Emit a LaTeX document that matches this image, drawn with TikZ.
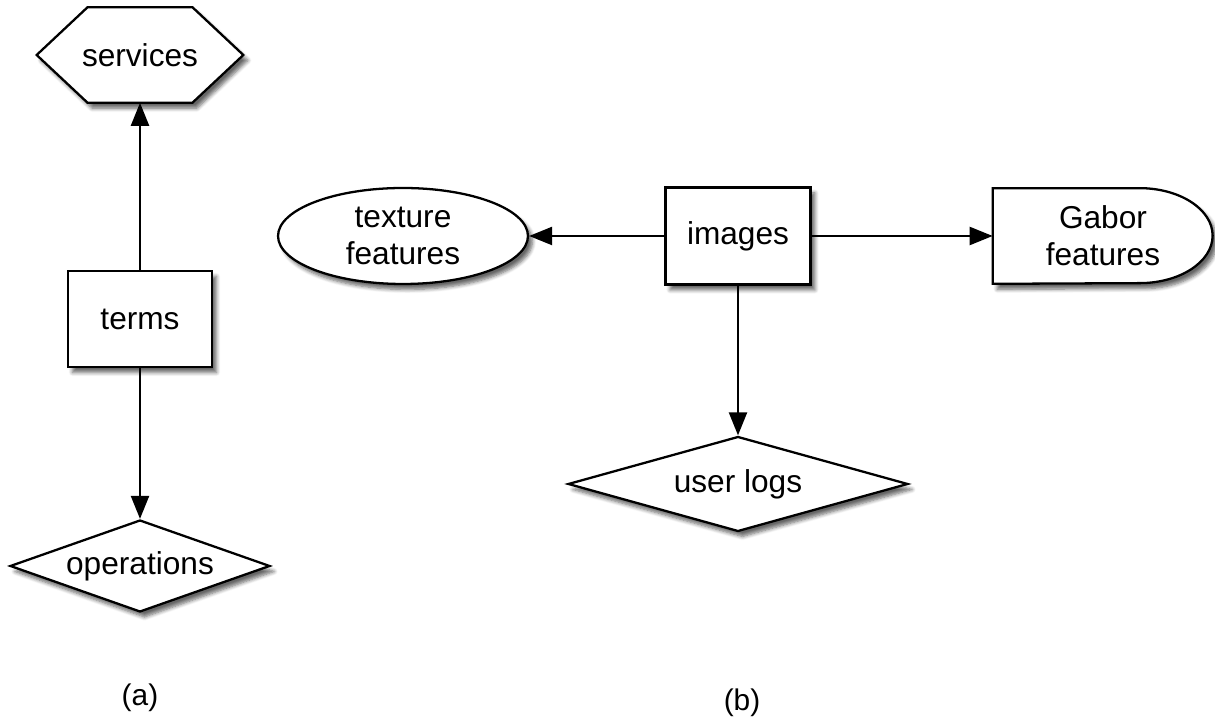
\documentclass[tikz,border=0pt]{standalone}
\usepackage{fontspec}
\setmainfont{Liberation Sans}
\usepackage{tikz}
\usetikzlibrary{shapes.geometric,shadows.blur,arrows.meta}

\begin{document}
\begin{tikzpicture}[x=0.02cm, y=0.02cm,
  shade/.style = {blur shadow={shadow xshift=0.09cm, shadow yshift=-0.11cm, shadow blur steps=6, shadow opacity=60}},
  box/.style = {draw, line width=1.3pt, fill=white, shade, inner sep=0pt, font=\fontsize{18}{21}\selectfont, align=center},
  ghost/.style = {inner sep=0pt, font=\fontsize{18}{21}\selectfont, align=center},
  outline/.style = {draw, line width=1.3pt, fill=white, shade},
  link/.style = {line width=1.3pt, opacity=1, fill opacity=1, -{Triangle[length=0.46cm, width=0.36cm, fill=black]}},
  tag/.style = {font=\fontsize{17}{20}\selectfont}]
\useasboundingbox (0,0) rectangle (1215,723);

%% (a)
\node[ghost, minimum width=4.12cm, minimum height=1.9cm] (services) at (140,668) {};
\draw[outline] (services.west) -- ([xshift=1.02cm]services.north west) -- ([xshift=-1.02cm]services.north east)
  -- (services.east) -- ([xshift=-1.02cm]services.south east) -- ([xshift=1.02cm]services.south west) -- cycle;
\node[ghost] at (services) {services};
\node[box, minimum width=2.88cm, minimum height=1.92cm] (terms) at (140,404) {terms};
\node[box, diamond, aspect=2.8, minimum width=5.2cm, minimum height=1.84cm] (operations) at (140,157) {operations};
\node[tag] (a) at (140,25) {(a)};

%% (b)
\node[box, minimum width=2.9cm, minimum height=1.94cm] (images) at (738,487) {images};
\node[box, ellipse, minimum width=5cm, minimum height=1.92cm] (texture) at (403,487) {texture\\features};
\node[ghost, minimum width=4.4cm, minimum height=1.9cm] (gabor) at (1103,487) {};
\draw[outline] (gabor.north west) -- ++(2.94cm,0) arc[start angle=90, end angle=-90, x radius=1.46cm, y radius=0.95cm]
  -- (gabor.south west) -- cycle;
\node[ghost] at (gabor) {Gabor\\features};
\node[box, diamond, aspect=3.6, minimum width=6.8cm, minimum height=1.9cm] (logs) at (738,239) {user logs};
\node[tag] (b) at (742,20) {(b)};

%%% edges
\draw[link] (terms) -- (services);
\draw[link] (terms) -- (operations);
\draw[link] (images) -- (texture);
\draw[link] (images) -- (gabor);
\draw[link] (images) -- (logs);

\end{tikzpicture}
\end{document}
